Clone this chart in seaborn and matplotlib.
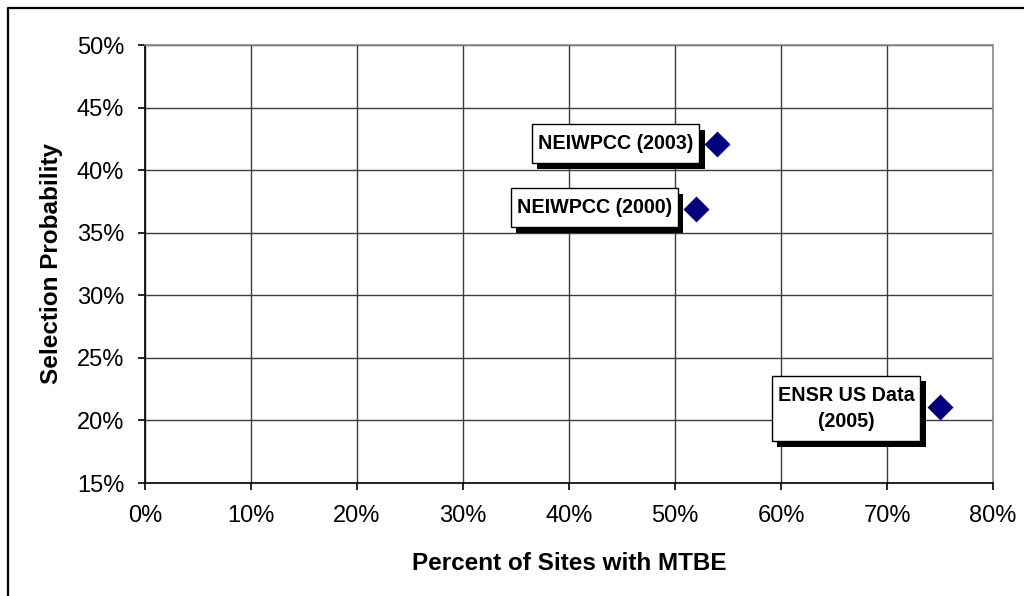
import pandas as pd
import seaborn as sns
import matplotlib.pyplot as plt
from matplotlib.lines import Line2D
from matplotlib.ticker import MultipleLocator, PercentFormatter
import matplotlib.patheffects as pe

# data
studies = ['NEIWPCC (2003)', 'NEIWPCC (2000)', 'ENSR US Data\n(2005)']
pct_sites_mtbe = [54.0, 52.0, 75.0]
selection_prob = [42.1, 36.9, 21.1]
label_offsets = [(-102, 0), (-102, 1), (-94, -2)]  # pixels, box centre vs point

df = pd.DataFrame({'study': studies, 'x': pct_sites_mtbe, 'y': selection_prob})

sns.set_style('white')
plt.rcParams['font.family'] = ['Liberation Sans', 'DejaVu Sans']
plt.rcParams['text.color'] = 'black'
plt.rcParams['axes.labelcolor'] = 'black'

fig = plt.figure(figsize=(10.24, 5.96), dpi=100)
ax = fig.add_axes([145 / 1024, 1 - 483 / 596, 848 / 1024, 438 / 596])

sns.scatterplot(data=df, x='x', y='y', marker='D', s=175, color='#000080',
                edgecolor='#000080', linewidth=0, ax=ax, zorder=5, clip_on=False)

ax.set_xlim(0, 80)
ax.set_ylim(15, 50)
ax.xaxis.set_major_locator(MultipleLocator(10))
ax.yaxis.set_major_locator(MultipleLocator(5))
ax.xaxis.set_major_formatter(PercentFormatter(decimals=0))
ax.yaxis.set_major_formatter(PercentFormatter(decimals=0))
ax.grid(True, color='#3c3c3c', linewidth=1.0)
ax.set_axisbelow(True)

for side in ['left', 'bottom']:
    ax.spines[side].set_color('black')
    ax.spines[side].set_linewidth(1.2)
for side in ['top', 'right']:
    ax.spines[side].set_color('#8c8c8c')
    ax.spines[side].set_linewidth(1.2)

ax.tick_params(axis='both', direction='out', length=5, width=1.2, color='black',
               labelsize=17, labelcolor='black', bottom=True, left=True)
ax.tick_params(axis='x', pad=11)
ax.tick_params(axis='y', pad=10)

ax.set_xlabel('Percent of Sites with MTBE', fontsize=17.5, fontweight='bold', labelpad=18)
ax.set_ylabel('Selection Probability', fontsize=17.5, fontweight='bold', labelpad=10)

for lab, xv, yv, off in zip(studies, pct_sites_mtbe, selection_prob, label_offsets):
    t = ax.annotate(lab, (xv, yv), xytext=off, textcoords='offset pixels',
                    ha='center', va='center', fontsize=14.2, fontweight='bold',
                    linespacing=1.5,
                    bbox=dict(boxstyle='square,pad=0.3', mutation_aspect=1.7,
                              fc='white', ec='black', lw=1.0))
    t.get_bbox_patch().set_path_effects([
        pe.SimplePatchShadow(offset=(4, -4), shadow_rgbFace='black', alpha=1.0),
        pe.Normal()])

# outer frame of the chart area (runs off the right and bottom edges)
fig.add_artist(Line2D([8 / 1024, 8 / 1024, 1.0], [0.0, 1 - 8 / 596, 1 - 8 / 596],
                      transform=fig.transFigure, color='black', lw=1.6))

fig.savefig('out.png', dpi=100)
